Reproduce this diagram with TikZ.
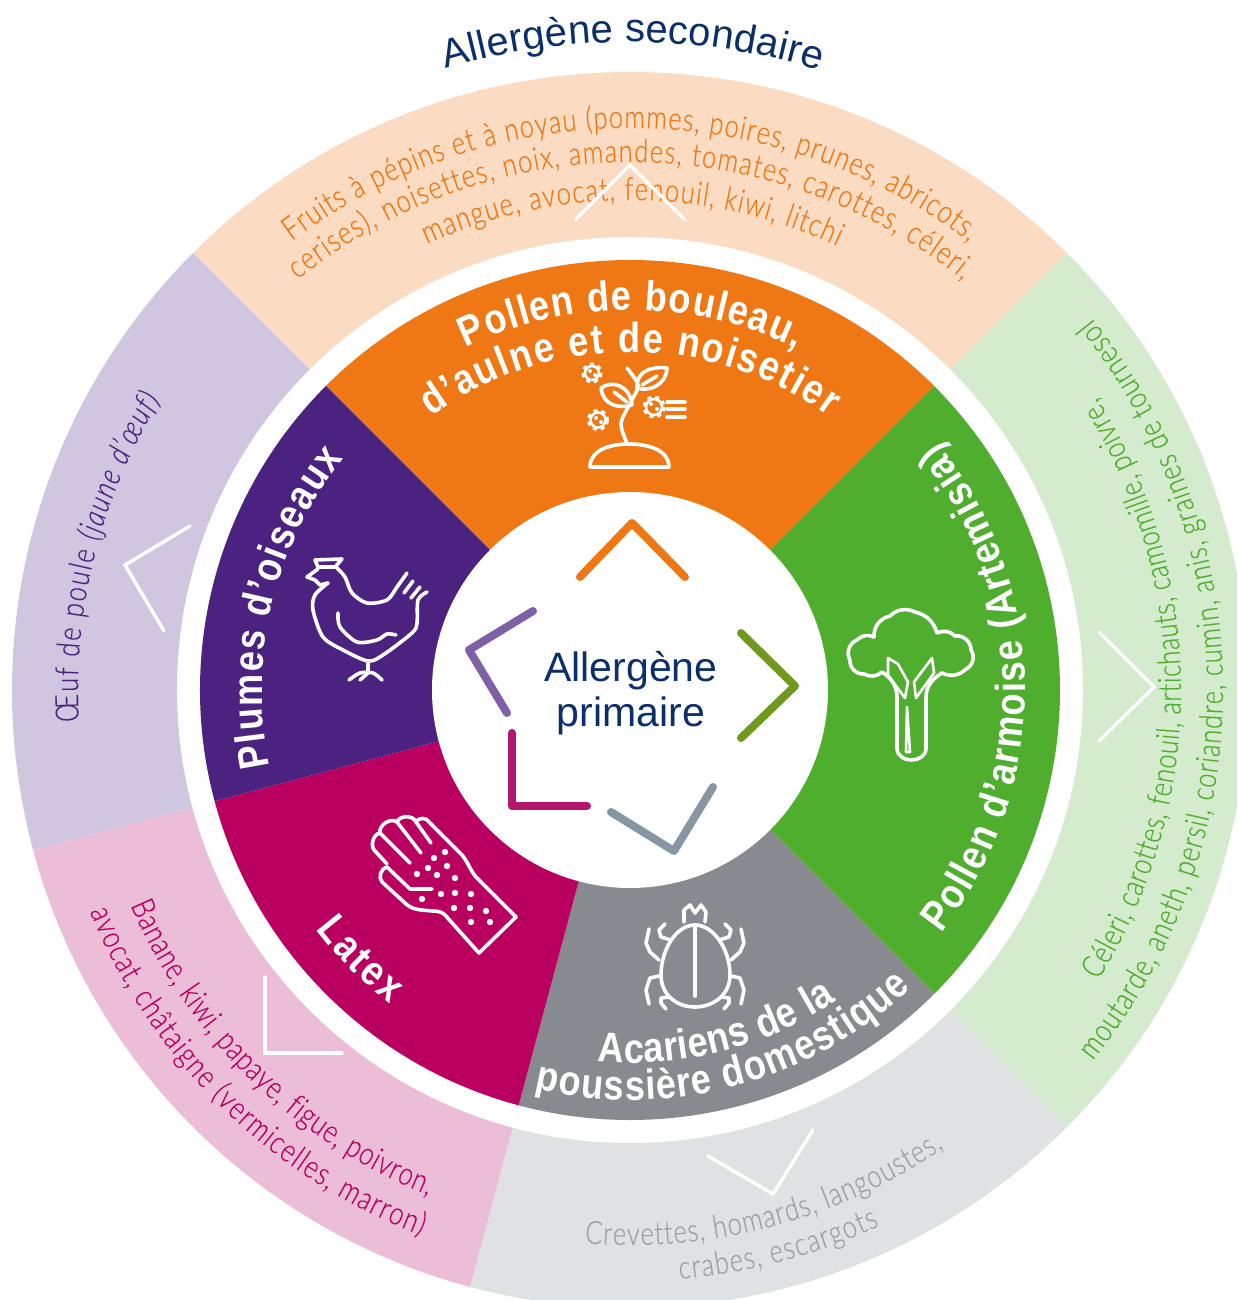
\documentclass[tikz,border=0pt]{standalone}
\usepackage{fontspec}
\usepackage{xcolor}
\usetikzlibrary{decorations.text}
\setmainfont{Liberation Sans}
\newfontfamily\narrowfont[FakeStretch=0.8,FakeBold=0.2]{Lato Light}
\newfontfamily\boldnarrow[FakeStretch=0.86]{Liberation Sans}
\newcommand{\sectorfont}{\fontsize{21}{25}\selectfont\boldnarrow\bfseries}
\newcommand{\listfont}{\fontsize{16}{19}\selectfont\narrowfont}
\definecolor{pollenorange}{HTML}{F07814}
\definecolor{paleorange}{HTML}{FBDCC3}
\definecolor{artemisgreen}{HTML}{4FAE2E}
\definecolor{palegreen}{HTML}{D4EBCE}
\definecolor{acarigray}{HTML}{878A8E}
\definecolor{palegray}{HTML}{E0E1E3}
\definecolor{graytext}{HTML}{9EA1A4}
\definecolor{latexred}{HTML}{B90061}
\definecolor{palered}{HTML}{ECBDD7}
\definecolor{plumepurple}{HTML}{4C2280}
\definecolor{palepurple}{HTML}{D1C6DF}
\definecolor{titleblue}{HTML}{0B2F6B}
\definecolor{chevgreen}{HTML}{6F9A1E}
\definecolor{chevgray}{HTML}{8497A3}
\definecolor{chevred}{HTML}{B5156F}
\definecolor{chevpurple}{HTML}{7F5FA6}

\begin{document}
\begin{tikzpicture}[x=0.5pt,y=0.5pt]
    \tikzset{hub/.style = {align=center,text=titleblue,font=\fontsize{20.5}{22.5}\selectfont}}
    \tikzset{curved/.style 2 args = {decoration={text along path,text align={fit to path},text={|#1|#2}},decorate}}
    \tikzset{img/.style = {x=0.5pt,y=-0.5pt,shift={(-630,-690)}}}
    \tikzset{icon/.style = {draw=white,line width=1.8pt,line cap=round,line join=round}}
    \tikzset{bigchev/.style = {line width=4pt,line cap=round,line join=round}}
    \tikzset{thinchev/.style = {draw=white,line width=1.7pt,line cap=round,line join=miter}}
    \useasboundingbox (-630,-610) rectangle (607,690);
    \clip (-630,-610) rectangle (607,690);
    % outer ring
    \fill[paleorange] (0,0) -- (135:618) arc[start angle=135,end angle=45,radius=618] -- cycle;
    \fill[palegreen] (0,0) -- (45:618) arc[start angle=45,end angle=-45,radius=618] -- cycle;
    \fill[palegray] (0,0) -- (-45:618) arc[start angle=-45,end angle=-105,radius=618] -- cycle;
    \fill[palered] (0,0) -- (-105:618) arc[start angle=-105,end angle=-165,radius=618] -- cycle;
    \fill[palepurple] (0,0) -- (195:618) arc[start angle=195,end angle=135,radius=618] -- cycle;
    \fill[white] (0,0) circle[radius=453];
    % inner ring
    \fill[pollenorange] (0,0) -- (135:430) arc[start angle=135,end angle=45,radius=430] -- cycle;
    \fill[artemisgreen] (0,0) -- (45:430) arc[start angle=45,end angle=-45,radius=430] -- cycle;
    \fill[acarigray] (0,0) -- (-45:430) arc[start angle=-45,end angle=-105,radius=430] -- cycle;
    \fill[latexred] (0,0) -- (-105:430) arc[start angle=-105,end angle=-165,radius=430] -- cycle;
    \fill[plumepurple] (0,0) -- (195:430) arc[start angle=195,end angle=135,radius=430] -- cycle;
    \fill[white] (0,0) circle[radius=198];
    \node[hub] (primary) at (1,-3) {Allergène\\primaire};
    % title
    \path[curved={\fontsize{20}{24}\selectfont\color{titleblue}}{Allergène secondaire}] (106.5:648) arc[start angle=106.5,end angle=73,radius=648];
    % inner labels
    \path[curved={\sectorfont\color{white}}{Pollen de bouleau,}] (115.6:380) arc[start angle=115.6,end angle=64,radius=380];
    \path[curved={\sectorfont\color{white}}{d’aulne et de noisetier}] (126:338) arc[start angle=126,end angle=54,radius=338];
    \path[curved={\sectorfont\color{white}}{Pollen d’armoise (Artemisia)}] (-38:395) arc[start angle=-38,end angle=38.8,radius=395];
    \path[curved={\sectorfont\color{white}}{Acariens de la}] (-95:373) arc[start angle=-95,end angle=-56.3,radius=373];
    \path[curved={\sectorfont\color{white}}{poussière domestique}] (-103.4:410) arc[start angle=-103.4,end angle=-46.7,radius=410];
    \path[curved={\sectorfont\color{white}}{Latex}] (217.3:395) arc[start angle=217.3,end angle=232.6,radius=395];
    \path[curved={\sectorfont\color{white}}{Plumes d’oiseaux}] (192:368) arc[start angle=192,end angle=141,radius=368];
    % outer lists
    \path[curved={\listfont\color{pollenorange}}{Fruits à pépins et à noyau (pommes, poires, prunes, abricots,}] (127:562) arc[start angle=127,end angle=53,radius=562];
    \path[curved={\listfont\color{pollenorange}}{cerises), noisettes, noix, amandes, tomates, carottes, céleri,}] (129:528) arc[start angle=129,end angle=51,radius=528];
    \path[curved={\listfont\color{pollenorange}}{mangue, avocat, fenouil, kiwi, litchi}] (114.5:490) arc[start angle=114.5,end angle=65,radius=490];
    \path[curved={\listfont\color{artemisgreen}}{Céleri, carottes, fenouil, artichauts, camomille, poivre,}] (-31.8:551) arc[start angle=-31.8,end angle=32,radius=551];
    \path[curved={\listfont\color{artemisgreen}}{moutarde, aneth, persil, coriandre, cumin, anis, graines de tournesol}] (-38.7:593) arc[start angle=-38.7,end angle=38.7,radius=593];
    \path[curved={\listfont\color{graytext}}{Crevettes, homards, langoustes,}] (-94.7:555) arc[start angle=-94.7,end angle=-55.6,radius=555];
    \path[curved={\listfont\color{graytext}}{crabes, escargots}] (-85.2:591) arc[start angle=-85.2,end angle=-65,radius=591];
    \path[curved={\listfont\color{latexred}}{Banane, kiwi, papaye, figue, poivron,}] (203.3:544) arc[start angle=203.3,end angle=248.2,radius=544];
    \path[curved={\listfont\color{latexred}}{avocat, châtaigne (vermicelles, marron)}] (202.3:584) arc[start angle=202.3,end angle=249,radius=584];
    \path[curved={\listfont\color{plumepurple}}{Œuf de poule |\listfont\itshape\color{plumepurple}|(jaune d’œuf)}] (183.3:552) arc[start angle=183.3,end angle=148.3,radius=552];
    \begin{scope}[img]
        % chevrons
        \draw[bigchev,pollenorange] (580,577) -- (632,523) -- (685,577);
        \draw[bigchev,chevgreen] (741,633) -- (795,686) -- (741,738);
        \draw[bigchev,chevgray] (611,812) -- (674,851) -- (713,787);
        \draw[bigchev,chevred] (512,733) -- (512,806) -- (587,806);
        \draw[bigchev,chevpurple] (533,611) -- (469,650) -- (507,713);
        \draw[thinchev] (575,220) -- (630,165) -- (685,220);
        \draw[thinchev] (1099,632) -- (1154,687) -- (1099,741);
        \draw[thinchev] (708,1156) -- (773,1194) -- (813,1130);
        \draw[thinchev] (265,977) -- (265,1053) -- (342,1053);
        \draw[thinchev] (190,526) -- (125,565) -- (164,631);
        % plant
        \draw[icon] (590,467) .. controls (590,450) and (610,444) .. (629,444) .. controls (648,444) and (669,450) .. (669,467) -- cycle;
        \draw[icon] plot[smooth] coordinates {(627,443) (621,423) (632,400) (638,385) (627,368)};
        \draw[icon] (601,388) .. controls (612,380) and (630,385) .. (632,405) .. controls (618,409) and (603,405) .. (601,388) -- cycle;
        \draw[icon] (614,392) -- (627,402);
        \draw[icon] (667,368) .. controls (650,366) and (636,372) .. (637,388) .. controls (650,392) and (666,385) .. (667,368) -- cycle;
        \draw[icon] (642,385) -- (657,376);
        \foreach \flox/\floy/\flor in {592/373/7,598/420/7.5,654/407/8} {
            \draw[icon,line width=1.3pt] (\flox,\floy) circle[radius=\flor];
            \draw[white,line width=1.5pt,dash pattern=on 2pt off 2pt] (\flox,\floy) circle[radius=\flor+2];
        }
        \draw[icon] (667,402) -- (685,402) (667,409) -- (685,409) (667,417) -- (685,417);
        \foreach \dotx/\doty in {590/371,595/375,596/418,601/422,651/404,657/409}
            \fill[white] (\dotx,\doty) circle[radius=2];
        % broccoli
        \draw[icon] (897,697) .. controls (897,685) and (890,677) .. (882,672)
            to[bend left=35] (864,674) to[bend left=50] (850,660) to[bend left=50] (857,640) to[bend left=35] (874,637)
            to[bend left=40] (890,616) to[bend left=35] (915,612) to[bend left=30] (937,633) to[bend left=35] (955,636)
            to[bend left=50] (971,650) to[bend left=50] (966,669) to[bend left=35] (942,673)
            .. controls (934,678) and (926,685) .. (926,697) -- (926,748) .. controls (926,764) and (897,764) .. (897,748) -- cycle;
        \draw[icon,line width=1.3pt] (907,707) -- (906,752) -- (910,752) -- cycle;
        \draw[icon,line width=1.3pt] (905,698) -- (888,675) -- (888,658) -- (898,664) -- (908,682) -- (905,698);
        \draw[icon,line width=1.3pt] (916,698) -- (914,682) -- (932,658) -- (934,673) -- (916,698);
        % mite
        \draw[icon] (695,925) .. controls (676,925) and (661,950) .. (661,975) .. controls (661,995) and (677,1007) .. (695,1007)
            .. controls (713,1007) and (730,995) .. (730,975) .. controls (730,950) and (714,925) .. (695,925) -- cycle;
        \draw[icon] (695,925) -- (695,996);
        \draw[icon] (684,922) -- (684,910) -- (690,905) -- (695,913) -- (701,905) -- (706,912) -- (705,922);
        \foreach \side in {1,-1} {
            \begin{scope}[shift={(695,0)},xscale=\side]
                \draw[icon] (-24,940) -- (-34,937) -- (-36,930) -- (-30,924);
                \draw[icon] (-36,960) -- (-45,952) -- (-49,943) -- (-46,929);
                \draw[icon] (-36,976) -- (-45,978) -- (-49,990) -- (-46,1004);
                \draw[icon] (-26,997) -- (-34,998) -- (-34,1003) -- (-29,1009);
            \end{scope}
        }
        % hand
        \draw[icon] (516,917) -- (476,877) .. controls (470,870) and (468,862) .. (462,855) -- (429,822)
            to[bend right=70] (416,822) to[bend right=70] (397,822) to[bend right=70] (380,833) to[bend right=70] (376,852) -- (387,864);
        \draw[icon] (387,867) to[bend right=60] (382,882) -- (405,903) .. controls (412,910) and (420,910) .. (433,911)
            .. controls (438,911) and (442,912) .. (445,915) -- (479,953) -- (516,917);
        \draw[icon] (387,867) -- (410,889) -- (432,889);
        \draw[icon] (416,822) -- (431,843);
        \draw[icon] (397,822) -- (421,853);
        \draw[icon] (380,833) -- (410,863);
        \foreach \dotx/\doty in {445/852,434/858,428/868,447/866,417/874,437/875,455/878,441/894,455/893,471/894,422/899,454/908,470/908,486/911,471/922,490/922}
            \fill[white] (\dotx,\doty) circle[radius=3.2];
        % hen
        \draw[icon] (315,560) -- (342,559) -- (335,567) -- (318,567) -- cycle;
        \draw[icon] (318,569) -- (307,577) -- (315,580) -- (320,585) -- (328,583);
        \draw[icon] plot[smooth] coordinates {(328,583) (315,595) (313,610) (323,637) (343,650) (368,661) (383,655) (412,633) (417,623) (418,600) (427,592)};
        \draw[icon] plot[smooth] coordinates {(337,568) (345,577) (352,593) (367,603) (387,600) (397,587) (407,573)};
        \draw[icon] (404,593) -- (413,581);
        \draw[icon] (411,598) -- (420,587);
        \draw[icon] plot[smooth] coordinates {(338,613) (340,627) (357,642) (377,640) (387,634) (396,635)};
        \draw[icon] (368,661) -- (368,673);
        \draw[icon] plot[smooth] coordinates {(349,680) (360,673) (373,673) (382,680)};
        \draw[icon] (360,680) -- (368,673);
    \end{scope}
\end{tikzpicture}
\end{document}
